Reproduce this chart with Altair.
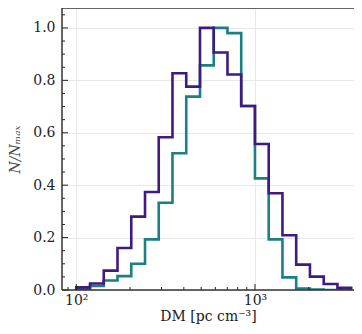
import altair as alt
import pandas as pd

# bin edges (DM, pc cm^-3), log-spaced
edges = [100, 119.4, 142.5, 170.1, 203.1, 242.5, 289.4, 345.5, 412.5, 492.4,
         587.8, 701.7, 837.7, 1000, 1193.8, 1425.1, 1701.3, 2031.0, 2424.5,
         2894.3, 3455.1]
purple_vals = [0.010, 0.025, 0.074, 0.160, 0.280, 0.374, 0.583, 0.827, 0.776,
               1.000, 0.906, 0.822, 0.702, 0.557, 0.369, 0.209, 0.097, 0.051,
               0.023, 0.008]
teal_vals = [0.005, 0.015, 0.036, 0.053, 0.100, 0.193, 0.333, 0.522, 0.738,
             0.857, 1.000, 0.980, 0.702, 0.426, 0.193, 0.048, 0.006, 0.002,
             0.0, 0.0]
x_major = [100, 1000]
x_minor = [90, 200, 300, 400, 500, 600, 700, 800, 900, 2000, 3000]
y_major = [0.0, 0.2, 0.4, 0.6, 0.8, 1.0]
y_minor = [0.05, 0.1, 0.15, 0.25, 0.3, 0.35, 0.45, 0.5, 0.55, 0.65, 0.7,
           0.75, 0.85, 0.9, 0.95, 1.05]

W, H = 292, 282
XDOM = [83.2, 3583]
YDOM = [0, 1.076]
FONT = "DejaVu Serif"


def step_frame(vals):
    xs = [edges[0]] + edges[:len(vals)] + [edges[len(vals)], edges[len(vals)]]
    ys = [0.0] + list(vals) + [vals[-1], 0.0]
    return pd.DataFrame({"x": xs, "y": ys, "i": range(len(xs))})


xs = alt.Scale(type="log", domain=XDOM, nice=False, zero=False)
ys = alt.Scale(domain=YDOM, nice=False, zero=False)

xaxis = alt.Axis(values=x_major, ticks=False, domain=False, grid=True,
                 gridColor="#e8e8e8", gridWidth=1,
                 labelExpr="datum.value == 100 ? '10²' : '10³'",
                 labelFont=FONT, labelFontSize=14, labelColor="#222",
                 labelPadding=3, title="DM [pc cm⁻³]", titleFont=FONT,
                 titleFontSize=14, titleFontWeight="normal", titleColor="#222",
                 titlePadding=2)
yaxis = alt.Axis(values=y_major, ticks=False, domain=False, grid=True,
                 gridColor="#e8e8e8", gridWidth=1, format=".1f",
                 labelFont=FONT, labelFontSize=14, labelColor="#222",
                 labelPadding=7, title="N/Nₘₐₓ", titleFont=FONT,
                 titleFontSize=14, titleFontWeight="normal",
                 titleFontStyle="italic", titleColor="#444", titlePadding=10)

teal = alt.Chart(step_frame(teal_vals)).mark_line(
    interpolate="step-after", color="#1b7f84", strokeWidth=2.6, clip=True
).encode(
    x=alt.X("x:Q", scale=xs, axis=xaxis),
    y=alt.Y("y:Q", scale=ys, axis=yaxis),
    order="i:Q",
)
purple = alt.Chart(step_frame(purple_vals)).mark_line(
    interpolate="step-after", color="#3f1a80", strokeWidth=2.6, clip=True
).encode(
    x=alt.X("x:Q", scale=xs),
    y=alt.Y("y:Q", scale=ys),
    order="i:Q",
)

xmaj_df = pd.DataFrame({"v": x_major})
xmin_df = pd.DataFrame({"v": x_minor})
ymaj_df = pd.DataFrame({"v": y_major})
ymin_df = pd.DataFrame({"v": y_minor})

bx_major = alt.Chart(xmaj_df).mark_rule(color="#222", strokeWidth=1).encode(
    x=alt.X("v:Q", scale=xs), y=alt.value(H), y2=alt.value(H - 6))
bx_minor = alt.Chart(xmin_df).mark_rule(color="#222", strokeWidth=1).encode(
    x=alt.X("v:Q", scale=xs), y=alt.value(H), y2=alt.value(H - 3))
ly_major = alt.Chart(ymaj_df).mark_rule(color="#222", strokeWidth=1).encode(
    y=alt.Y("v:Q", scale=ys), x=alt.value(0), x2=alt.value(6))
ly_minor = alt.Chart(ymin_df).mark_rule(color="#222", strokeWidth=1).encode(
    y=alt.Y("v:Q", scale=ys), x=alt.value(0), x2=alt.value(3))

frame_top = alt.Chart().mark_rule(color="#333", strokeWidth=1.5).encode(
    x=alt.value(0), x2=alt.value(W), y=alt.value(0))
frame_bottom = alt.Chart().mark_rule(color="#333", strokeWidth=1.5).encode(
    x=alt.value(0), x2=alt.value(W), y=alt.value(H))
frame_left = alt.Chart().mark_rule(color="#333", strokeWidth=1.5).encode(
    x=alt.value(0), y=alt.value(0), y2=alt.value(H))

chart = alt.layer(
    teal, purple, bx_major, bx_minor, ly_major, ly_minor,
    frame_top, frame_bottom, frame_left
).properties(
    width=W, height=H,
    background="white",
    autosize=alt.AutoSizeParams(type="none"),
    padding={"left": 54, "top": 0, "right": 0, "bottom": 36},
).configure_view(
    strokeWidth=0
)

chart.save("out.html", embed_options={"renderer": "svg", "actions": False})
